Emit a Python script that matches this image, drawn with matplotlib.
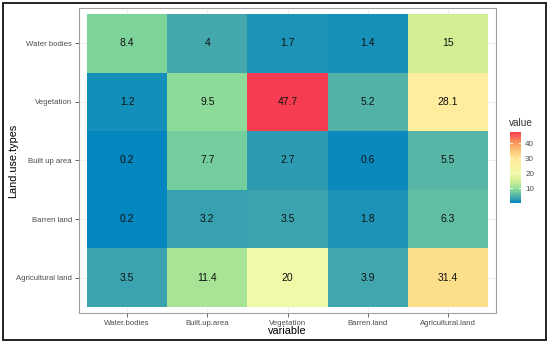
import numpy as np
import matplotlib
matplotlib.use("Agg")
import matplotlib.pyplot as plt
from matplotlib.colors import LinearSegmentedColormap, Normalize
from matplotlib.patches import Rectangle

plt.rcParams["font.family"] = ["Liberation Sans", "DejaVu Sans"]

# Categories
land_use_types = ["Agricultural land", "Barren land", "Built up area", "Vegetation", "Water bodies"]
variables = ["Water.bodies", "Built.up.area", "Vegetation", "Barren.land", "Agricultural.land"]

# Values per row (land use type), columns follow `variables`
agricultural_land = [3.5, 11.4, 20, 3.9, 31.4]
barren_land = [0.2, 3.2, 3.5, 1.8, 6.3]
built_up_area = [0.2, 7.7, 2.7, 0.6, 5.5]
vegetation = [1.2, 9.5, 47.7, 5.2, 28.1]
water_bodies = [8.4, 4, 1.7, 1.4, 15]

values = np.array([agricultural_land, barren_land, built_up_area, vegetation, water_bodies])

vmin, vmax = values.min(), values.max()

# colour gradient
stops = [(0.2, "#0487BE"), (4, "#45A8AC"), (8.4, "#7DD49A"), (11.4, "#A8E496"),
         (15, "#D4EF94"), (20, "#EFF9A8"), (28.1, "#FEED9C"), (31.4, "#FDE08B"),
         (40, "#FA9C5E"), (47.7, "#F63C50")]
cmap = LinearSegmentedColormap.from_list(
    "landuse", [((v - vmin) / (vmax - vmin), c) for v, c in stops])
norm = Normalize(vmin=vmin, vmax=vmax)

fig = plt.figure(figsize=(5.5, 3.44), dpi=100)
ax = fig.add_axes([79 / 550, 1 - 313 / 344, 417 / 550, 305 / 344])

# faint grid in the padding, like ggplot theme_bw
for k in range(5):
    ax.axvline(k, color="#EBEBEB", lw=0.6, zorder=0)
    ax.axhline(k, color="#EBEBEB", lw=0.6, zorder=0)

for i, row in enumerate(values):
    for j, v in enumerate(row):
        ax.add_patch(Rectangle((j - 0.5, i - 0.5), 1, 1, facecolor=cmap(norm(v)),
                               edgecolor="none", zorder=1))
        ax.text(j, i, f"{v:g}", ha="center", va="center", fontsize=7.5, color="#111111", zorder=2)

ax.set_xlim(-0.6, 4.6)
ax.set_ylim(-0.6, 4.6)
ax.set_xticks(range(5))
ax.set_xticklabels(variables)
ax.set_yticks(range(5))
ax.set_yticklabels(land_use_types)
ax.tick_params(labelsize=5.6, labelcolor="#4D4D4D", color="#4D4D4D", length=3, width=0.6, pad=2)
ax.set_xlabel("variable", fontsize=7.8)
ax.set_ylabel("Land.use.types", fontsize=7.8)
ax.xaxis.set_label_coords(0.5, -0.042)
ax.yaxis.set_label_coords(-0.145, 0.5)
for s in ax.spines.values():
    s.set_color("#A0A0A0")
    s.set_linewidth(0.8)

# colour bar legend
cax = fig.add_axes([510 / 550, 1 - 203 / 344, 11 / 550, 71.3 / 344])
sm = plt.cm.ScalarMappable(norm=norm, cmap=cmap)
cb = fig.colorbar(sm, cax=cax, ticks=[10, 20, 30, 40])
cb.outline.set_visible(False)
cax.tick_params(labelsize=5.8, labelcolor="#4D4D4D", length=0, pad=3)
for t in [10, 20, 30, 40]:
    cax.plot([0, 0.2], [t, t], color="white", lw=0.6, transform=cax.get_yaxis_transform())
    cax.plot([0.8, 1], [t, t], color="white", lw=0.6, transform=cax.get_yaxis_transform())
fig.text(509 / 550, 1 - 123 / 344, "value", fontsize=7.2, ha="left", va="center", color="#333333")

# outer black frame
fig.patches.append(Rectangle((3 / 550, 4 / 344), 543 / 550, 337 / 344, transform=fig.transFigure,
                             fill=False, edgecolor="#222222", lw=1.4))

fig.savefig("out.png", dpi=100)
